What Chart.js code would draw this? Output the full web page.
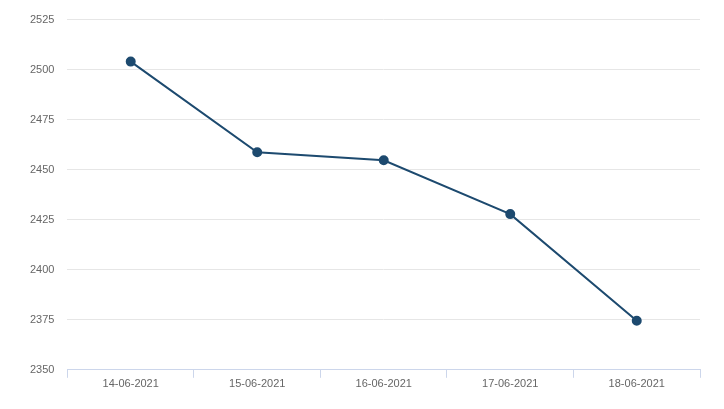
<!DOCTYPE html>
<html>
<head>
<meta charset="utf-8">
<script src="https://cdn.jsdelivr.net/npm/chart.js@4"></script>
<style>
  html, body { margin: 0; padding: 0; background: #fff; }
  #wrap { width: 724px; height: 409px; }
</style>
</head>
<body>
<div id="wrap"><canvas id="myChart"></canvas></div>
<script>
var dates = ["14-06-2021", "15-06-2021", "16-06-2021", "17-06-2021", "18-06-2021"]
var prices = [2504, 2458.7, 2454.7, 2427.8, 2374.5]
var yMin = 2350
var yMax = 2525
var yStep = 25

var ctx = document.getElementById("myChart").getContext('2d')

var chart = new Chart(ctx, {
	type: 'line',
	data: {
		labels: dates,
		datasets: [
			{
				label: "Price",
				data: prices,
				borderColor: "#1d4a6f",
				backgroundColor: "#1d4a6f",
				borderWidth: 2,
				pointRadius: 4,
				pointHoverRadius: 4,
				tension: 0
			}
		]
	},
	options: {
		responsive: true,
		maintainAspectRatio: false,
		animation: false,
		layout: { padding: { left: 17, right: 24, top: 4, bottom: 18 } },
		plugins: {
			legend: { display: false },
			tooltip: { enabled: false }
		},
		scales: {
			x: {
				offset: true,
				grid: {
					drawOnChartArea: false,
					drawTicks: true,
					tickLength: 8,
					color: "#ccd6eb",
					offset: true
				},
				border: { color: "#ccd6eb", width: 1 },
				ticks: {
					color: "#666",
					font: { family: "Arial, 'Liberation Sans', sans-serif", size: 11 },
					padding: 0,
					maxRotation: 0
				}
			},
			y: {
				min: yMin,
				max: yMax,
				grid: {
					color: "#e6e6e6",
					drawTicks: false
				},
				border: { display: false },
				ticks: {
					stepSize: yStep,
					color: "#666",
					font: { family: "Arial, 'Liberation Sans', sans-serif", size: 11 },
					padding: 13,
					callback: function(v) { return String(v) }
				}
			}
		}
	}
})
</script>
</body>
</html>
